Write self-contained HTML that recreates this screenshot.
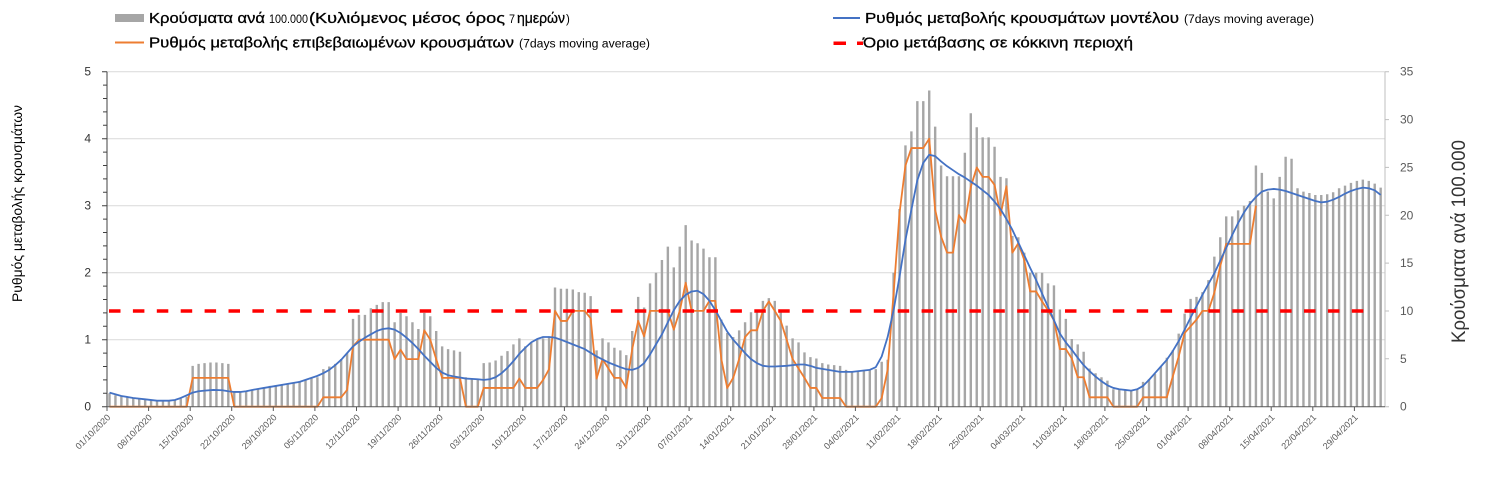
<!DOCTYPE html>
<html>
<head>
<meta charset="utf-8">
<style>
html,body{margin:0;padding:0;background:#fff;}
svg{display:block;}
text{font-family:"Liberation Sans","DejaVu Sans",sans-serif;}
</style>
</head>
<body>
<svg width="1486" height="486" viewBox="0 0 1486 486" xmlns="http://www.w3.org/2000/svg">
<rect width="1486" height="486" fill="#fff"/>

<!-- Legend -->
<rect x="115" y="14" width="29" height="8" fill="#a6a6a6"/>
<text x="149" y="23" font-size="15" textLength="116" lengthAdjust="spacingAndGlyphs" fill="#000" stroke="#000" stroke-width="0.3">Κρούσματα ανά</text>
<text x="269" y="23" font-size="11.5" textLength="39" lengthAdjust="spacingAndGlyphs" fill="#000">100.000</text>
<text x="309" y="23" font-size="15" textLength="196" lengthAdjust="spacingAndGlyphs" fill="#000" stroke="#000" stroke-width="0.3">(Κυλιόμενος μέσος όρος</text>
<text x="509" y="23" font-size="11.5" textLength="6" lengthAdjust="spacingAndGlyphs" fill="#000">7</text>
<text x="517" y="23" font-size="15" textLength="48" lengthAdjust="spacingAndGlyphs" fill="#000" stroke="#000" stroke-width="0.3">ημερών</text>
<text x="566" y="23" font-size="11.5" fill="#000">)</text>

<line x1="115" y1="42.5" x2="144" y2="42.5" stroke="#ed7d31" stroke-width="2"/>
<text x="149" y="47.5" font-size="15" textLength="365" lengthAdjust="spacingAndGlyphs" fill="#000" stroke="#000" stroke-width="0.3">Ρυθμός μεταβολής επιβεβαιωμένων κρουσμάτων</text>
<text x="519" y="47.5" font-size="11.5" textLength="131" lengthAdjust="spacingAndGlyphs" fill="#000">(7days moving average)</text>

<line x1="833" y1="18" x2="860" y2="18" stroke="#4472c4" stroke-width="2"/>
<text x="865" y="23" font-size="15" textLength="314" lengthAdjust="spacingAndGlyphs" fill="#000" stroke="#000" stroke-width="0.3">Ρυθμός μεταβολής κρουσμάτων μοντέλου</text>
<text x="1184" y="23" font-size="11.5" textLength="130" lengthAdjust="spacingAndGlyphs" fill="#000">(7days moving average)</text>

<rect x="833.5" y="41.5" width="12.5" height="3.5" fill="#ff0000"/>
<rect x="857" y="41.5" width="6" height="3.5" fill="#ff0000"/>
<text x="863" y="47.5" font-size="15" textLength="270" lengthAdjust="spacingAndGlyphs" fill="#000" stroke="#000" stroke-width="0.3">Όριο μετάβασης σε κόκκινη περιοχή</text>

<!-- Axis titles -->
<text transform="translate(22,203.5) rotate(-90)" text-anchor="middle" font-size="14" textLength="197" lengthAdjust="spacingAndGlyphs" fill="#000">Ρυθμός μεταβολής κρουσμάτων</text>
<text transform="translate(1465,241.5) rotate(-90)" text-anchor="middle" font-size="19" textLength="203" lengthAdjust="spacingAndGlyphs" fill="#333">Κρούσματα ανά 100.000</text>

<!-- Gridlines -->
<path d="M107 71.7H1385M107 138.7H1385M107 205.7H1385M107 272.7H1385M107 339.7H1385" stroke="#d9d9d9" stroke-width="1" fill="none"/>

<!-- Bars -->
<g transform="translate(109.5,406.7) scale(5.94,-67)">
<path fill="none" stroke="#a6a6a6" stroke-width="2.4" vector-effect="non-scaling-stroke" d="M0 0V.2M1 0V.17M2 0V.15M3 0V.14M4 0V.13M5 0V.12M6 0V.11M7 0V.1M8 0V.1M9 0V.1M10 0V.1M11 0V.1M12 0V.12M13 0V.15M14 0V.61M15 0V.64M16 0V.65M17 0V.66M18 0V.66M19 0V.65M20 0V.64M21 0V.22M22 0V.22M23 0V.23M24 0V.25M25 0V.27M26 0V.29M27 0V.31M28 0V.32M29 0V.33M30 0V.34M31 0V.36M32 0V.38M33 0V.4M34 0V.42M35 0V.44M36 0V.56M37 0V.6M38 0V.64M39 0V.71M40 0V.8M41 0V1.31M42 0V1.37M43 0V1.37M44 0V1.47M45 0V1.52M46 0V1.56M47 0V1.56M48 0V1.26M49 0V1.4M50 0V1.35M51 0V1.26M52 0V1.16M53 0V1.4M54 0V1.35M55 0V1.13M56 0V.9M57 0V.86M58 0V.84M59 0V.82M60 0V.44M61 0V.41M62 0V.4M63 0V.65M64 0V.66M65 0V.69M66 0V.76M67 0V.83M68 0V.93M69 0V1.02M70 0V.9M71 0V.95M72 0V1M73 0V1.02M74 0V1.05M75 0V1.78M76 0V1.76M77 0V1.76M78 0V1.75M79 0V1.71M80 0V1.7M81 0V1.65M82 0V.84M83 0V1.02M84 0V.96M85 0V.88M86 0V.84M87 0V.77M88 0V1.13M89 0V1.64M90 0V1.48M91 0V1.84M92 0V2M93 0V2.19M94 0V2.39M95 0V2.08M96 0V2.39M97 0V2.71M98 0V2.48M99 0V2.44M100 0V2.36M101 0V2.23M102 0V2.23M103 0V1.3M104 0V1.1M105 0V1.04M106 0V1.14M107 0V1.26M108 0V1.41M109 0V1.41M110 0V1.58M111 0V1.62M112 0V1.58M113 0V1.41M114 0V1.21M115 0V1.02M116 0V.96M117 0V.81M118 0V.74M119 0V.72M120 0V.65M121 0V.63M122 0V.62M123 0V.61M124 0V.55M125 0V.53M126 0V.53M127 0V.54M128 0V.54M129 0V.56M130 0V.67M131 0V.7M132 0V2M133 0V2.95M134 0V3.9M135 0V4.11M136 0V4.56M137 0V4.56M138 0V4.72M139 0V4.18M140 0V3.6M141 0V3.44M142 0V3.44M143 0V3.44M144 0V3.79M145 0V4.38M146 0V4.17M147 0V4.02M148 0V4.02M149 0V3.88M150 0V3.43M151 0V3.41M152 0V2.55M153 0V2.53M154 0V2.3M155 0V2M156 0V2M157 0V2M158 0V1.84M159 0V1.81M160 0V1.45M161 0V1.31M162 0V1.01M163 0V.93M164 0V.82M165 0V.57M166 0V.5M167 0V.44M168 0V.39M169 0V.26M170 0V.26M171 0V.25M172 0V.25M173 0V.26M174 0V.37M175 0V.41M176 0V.49M177 0V.6M178 0V.73M179 0V.84M180 0V1.09M181 0V1.39M182 0V1.61M183 0V1.64M184 0V1.71M185 0V1.89M186 0V2.24M187 0V2.53M188 0V2.84M189 0V2.84M190 0V2.93M191 0V3M192 0V3.07M193 0V3.6M194 0V3.49M195 0V3.21M196 0V3.11M197 0V3.43M198 0V3.73M199 0V3.7M200 0V3.26M201 0V3.21M202 0V3.19M203 0V3.16M204 0V3.16M205 0V3.17M206 0V3.2M207 0V3.26M208 0V3.3M209 0V3.34M210 0V3.37M211 0V3.39M212 0V3.37M213 0V3.33M214 0V3.27"/>

<!-- Orange line -->
<polyline fill="none" stroke="#ed7d31" stroke-width="1.8" stroke-linejoin="round" vector-effect="non-scaling-stroke" points="0,0 13,0 14,.43 20,.43 21,0 35,0 36,.14 39,.14 40,.25 41,.9 42,1 47,1 48,.71 49,.85 50,.71 52,.71 53,1.14 54,1 55,.71 56,.43 59,.43 60,0 62,0 63,.28 68,.28 69,.42 70,.28 72,.28 73,.4 74,.56 75,1.43 76,1.28 77,1.28 78,1.43 80,1.43 81,1.32 82,.42 83,.71 84,.57 85,.43 86,.43 87,.28 88,.86 89,1.28 90,1.05 91,1.43 94,1.43 95,1.15 96,1.43 97,1.85 98,1.43 100,1.43 101,1.58 102,1.58 103,.71 104,.28 105,.43 106,.71 107,1.04 108,1.14 109,1.14 110,1.43 111,1.57 112,1.43 113,1.28 114,1 115,.71 116,.57 117,.43 118,.28 119,.28 120,.13 123,.13 124,0 129,0 130,.13 131,.55 132,1.69 133,2.89 134,3.6 135,3.86 137,3.86 138,4 139,2.94 140,2.54 141,2.3 142,2.3 143,2.86 144,2.74 145,3.28 146,3.57 147,3.43 148,3.43 149,3.31 150,2.86 151,3.29 152,2.3 153,2.44 154,2.19 155,1.72 156,1.72 157,1.57 158,1.44 159,1.29 160,.86 161,.86 162,.72 163,.44 164,.44 165,.14 168,.14 169,0 173,0 174,.14 178,.14 179,.45 180,.75 181,1.1 182,1.2 183,1.3 184,1.43 185,1.43 186,1.7 187,2.1 188,2.43 192,2.43 193,3"/>

<!-- Blue line -->
<polyline fill="none" stroke="#4472c4" stroke-width="1.8" stroke-linejoin="round" vector-effect="non-scaling-stroke" points="0,.21 2,.16 4,.13 6,.11 8,.09 10,.09 11,.1 12,.13 13,.17 14,.21 15,.23 16,.24 17.5,.25 19,.245 20,.23 21,.22 22,.22 23,.23 24,.25 26,.28 28,.31 30,.34 32,.37 34,.43 35,.46 36,.5 37,.55 38,.62 39,.7 40,.8 41,.9 42,.97 43,1.03 44,1.08 45,1.13 46,1.16 47,1.17 48,1.15 49,1.1 50,1.03 51,.95 52,.86 53,.76 54,.67 55,.58 56,.51 57,.47 58,.45 60,.42 62,.41 63,.4 64,.41 65,.44 66,.5 67,.58 68,.68 69,.79 70,.88 71,.96 72,1.01 73,1.04 74,1.04 75,1.03 76,1 78,.93 80,.86 82,.75 84,.66 86,.59 87,.56 88,.55 89,.58 90,.65 91,.78 92,.93 93,1.08 94,1.26 95,1.44 96,1.58 97,1.67 98,1.72 99,1.73 100,1.68 101,1.58 102,1.44 103,1.28 104,1.12 105,1 106,.9 107,.8 108,.71 109,.65 110,.61 111,.6 112,.6 114,.61 116,.63 117,.63 118,.61 119,.58 121,.55 123,.52 125,.52 127,.54 128,.55 129,.59 130,.75 131,1.04 132,1.44 133,1.94 134,2.49 135,2.94 136,3.38 137,3.64 138,3.76 139,3.74 140,3.66 141,3.59 142,3.53 143,3.47 144,3.42 145,3.36 146,3.3 147,3.23 148,3.16 149,3.06 150,2.95 151,2.8 152,2.64 153,2.45 154,2.26 155,2.07 156,1.89 157,1.69 158,1.49 159,1.29 160,1.09 161,.96 162,.85 163,.73 164,.62 165,.53 166,.45 167,.38 168,.32 169,.28 170,.26 171,.25 172,.24 173,.26 174,.31 175,.4 176,.5 177,.6 178,.7 179,.83 180,.98 181,1.15 182,1.33 183,1.5 184,1.67 185,1.83 186,1.99 187,2.18 188,2.37 189,2.56 190,2.74 191,2.9 192,3.03 193,3.13 194,3.21 195,3.24 196,3.25 197,3.24 198,3.22 199,3.19 200,3.16 201,3.13 202,3.1 203,3.07 204,3.05 205,3.06 206,3.09 207,3.13 208,3.18 209,3.22 210,3.25 211,3.27 212,3.26 213,3.23 214,3.16"/>
</g>

<!-- Red threshold -->
<line x1="109" y1="311" x2="1370" y2="311" stroke="#ff0000" stroke-width="3.5" stroke-dasharray="11.5 12.4"/>

<!-- Left axis -->
<line x1="107" y1="71.7" x2="107" y2="406.7" stroke="#404040" stroke-width="1"/>
<path stroke="#404040" stroke-width="1" fill="none" d="M102 406.7H107M103 393.3H107M103 379.9H107M103 366.5H107M103 353.1H107M102 339.7H107M103 326.3H107M103 312.9H107M103 299.5H107M103 286.1H107M102 272.7H107M103 259.3H107M103 245.9H107M103 232.5H107M103 219.1H107M102 205.7H107M103 192.3H107M103 178.9H107M103 165.5H107M103 152.1H107M102 138.7H107M103 125.3H107M103 111.9H107M103 98.5H107M103 85.1H107M102 71.7H107"/>
<g font-size="12" fill="#333" text-anchor="end">
<text x="91" y="410.7">0</text>
<text x="91" y="343.7">1</text>
<text x="91" y="276.7">2</text>
<text x="91" y="209.7">3</text>
<text x="91" y="142.7">4</text>
<text x="91" y="75.7">5</text>
</g>

<!-- Right axis -->
<line x1="1385" y1="71.7" x2="1385" y2="406.7" stroke="#bfbfbf" stroke-width="1"/>
<path stroke="#bfbfbf" stroke-width="1" fill="none" d="M1385 406.7H1389M1385 358.8H1389M1385 311H1389M1385 263.1H1389M1385 215.3H1389M1385 167.4H1389M1385 119.6H1389M1385 71.7H1389"/>
<g font-size="12" fill="#595959">
<text x="1400" y="410.7">0</text>
<text x="1400" y="362.8">5</text>
<text x="1400" y="315">10</text>
<text x="1400" y="267.1">15</text>
<text x="1400" y="219.3">20</text>
<text x="1400" y="171.4">25</text>
<text x="1400" y="123.6">30</text>
<text x="1400" y="75.7">35</text>
</g>

<!-- X axis -->
<line x1="107" y1="406.7" x2="1385" y2="406.7" stroke="#595959" stroke-width="1"/>
<path stroke="#595959" stroke-width="1" fill="none" d="M107 406.7V411M148.6 406.7V411M190.2 406.7V411M231.7 406.7V411M273.3 406.7V411M314.9 406.7V411M356.5 406.7V411M398.1 406.7V411M439.6 406.7V411M481.2 406.7V411M522.8 406.7V411M564.4 406.7V411M606 406.7V411M647.5 406.7V411M689.1 406.7V411M730.7 406.7V411M772.3 406.7V411M813.9 406.7V411M855.4 406.7V411M897 406.7V411M938.6 406.7V411M980.2 406.7V411M1021.8 406.7V411M1063.3 406.7V411M1104.9 406.7V411M1146.5 406.7V411M1188.1 406.7V411M1229.7 406.7V411M1271.2 406.7V411M1312.8 406.7V411M1354.4 406.7V411"/>
<g font-size="9" fill="#595959" text-anchor="end">
<text transform="translate(111,418) rotate(-45)">01/10/2020</text>
<text transform="translate(152.6,418) rotate(-45)">08/10/2020</text>
<text transform="translate(194.2,418) rotate(-45)">15/10/2020</text>
<text transform="translate(235.7,418) rotate(-45)">22/10/2020</text>
<text transform="translate(277.3,418) rotate(-45)">29/10/2020</text>
<text transform="translate(318.9,418) rotate(-45)">05/11/2020</text>
<text transform="translate(360.5,418) rotate(-45)">12/11/2020</text>
<text transform="translate(402.1,418) rotate(-45)">19/11/2020</text>
<text transform="translate(443.6,418) rotate(-45)">26/11/2020</text>
<text transform="translate(485.2,418) rotate(-45)">03/12/2020</text>
<text transform="translate(526.8,418) rotate(-45)">10/12/2020</text>
<text transform="translate(568.4,418) rotate(-45)">17/12/2020</text>
<text transform="translate(610,418) rotate(-45)">24/12/2020</text>
<text transform="translate(651.5,418) rotate(-45)">31/12/2020</text>
<text transform="translate(693.1,418) rotate(-45)">07/01/2021</text>
<text transform="translate(734.7,418) rotate(-45)">14/01/2021</text>
<text transform="translate(776.3,418) rotate(-45)">21/01/2021</text>
<text transform="translate(817.9,418) rotate(-45)">28/01/2021</text>
<text transform="translate(859.4,418) rotate(-45)">04/02/2021</text>
<text transform="translate(901,418) rotate(-45)">11/02/2021</text>
<text transform="translate(942.6,418) rotate(-45)">18/02/2021</text>
<text transform="translate(984.2,418) rotate(-45)">25/02/2021</text>
<text transform="translate(1025.8,418) rotate(-45)">04/03/2021</text>
<text transform="translate(1067.3,418) rotate(-45)">11/03/2021</text>
<text transform="translate(1108.9,418) rotate(-45)">18/03/2021</text>
<text transform="translate(1150.5,418) rotate(-45)">25/03/2021</text>
<text transform="translate(1192.1,418) rotate(-45)">01/04/2021</text>
<text transform="translate(1233.7,418) rotate(-45)">08/04/2021</text>
<text transform="translate(1275.2,418) rotate(-45)">15/04/2021</text>
<text transform="translate(1316.8,418) rotate(-45)">22/04/2021</text>
<text transform="translate(1358.4,418) rotate(-45)">29/04/2021</text>
</g>
</svg>
</body>
</html>
